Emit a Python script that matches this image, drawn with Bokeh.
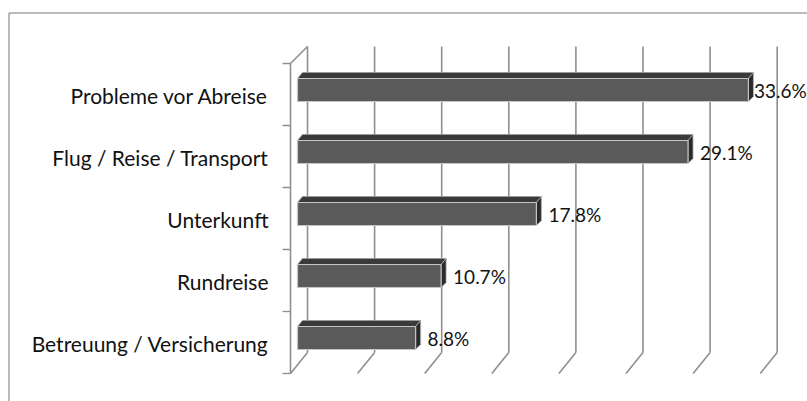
from bokeh.plotting import figure
from bokeh.models import Range1d, ColumnDataSource
from bokeh.embed import file_html
from bokeh.resources import INLINE
from bokeh.core.properties import value

# ---- data ----
categories = ["Probleme vor Abreise", "Flug / Reise / Transport", "Unterkunft",
              "Rundreise", "Betreuung / Versicherung"]
shares = [33.6, 29.1, 17.8, 10.7, 8.8]
value_labels = ["33.6%", "29.1%", "17.8%", "10.7%", "8.8%"]
grid_ticks = [0, 5, 10, 15, 20, 25, 30, 35]

# ---- layout / style ----
W, H = 807, 401
SX = 13.42   # px per percent
SY = 62.0    # px per category band
X0 = 290     # px of front axis (x = 0) inside the figure
Y0 = 63      # px of front axis top inside the figure
label_gap = [5.5, 12, 12, 12, 12]

def ux(px):
    return px / SX

def uy(px):
    return px / SY

GRID = "#8f8f8f"

p = figure(width=W, height=H, output_backend="svg", toolbar_location=None,
           x_range=Range1d(-X0 / SX, (W - X0) / SX),
           y_range=Range1d((H - Y0) / SY, -Y0 / SY),
           min_border=0, x_axis_location=None, y_axis_location=None,
           outline_line_color=None, background_fill_color="white",
           border_fill_color="white")
p.xgrid.visible = False
p.ygrid.visible = False

# outer frame (left + top)
xl = -X0 / SX + ux(8.5)
yt = -Y0 / SY + uy(12.5)
p.segment(x0=[xl, xl], y0=[yt, yt], x1=[xl, (W - X0) / SX + 1],
          y1=[(H - Y0) / SY + 1, yt], line_color="#a3a3a3", line_width=1.5)

# back wall gridlines + floor diagonals
n = len(categories)
bx = ux(17)
p.segment(x0=[t + bx for t in grid_ticks], y0=[uy(-17)] * len(grid_ticks),
          x1=[t + bx for t in grid_ticks], y1=[uy(289)] * len(grid_ticks),
          line_color=GRID, line_width=1.6)
p.segment(x0=[t + bx for t in grid_ticks], y0=[uy(289)] * len(grid_ticks),
          x1=grid_ticks, y1=[n] * len(grid_ticks),
          line_color=GRID, line_width=1.6)

# front (category) axis with ticks and top diagonal
p.segment(x0=[0], y0=[0], x1=[0], y1=[n], line_color=GRID, line_width=1.6)
p.segment(x0=[0], y0=[0], x1=[bx], y1=[uy(-17)], line_color=GRID, line_width=1.6)
p.segment(x0=[-ux(8)] * (n + 1), y0=list(range(n + 1)),
          x1=[0] * (n + 1), y1=list(range(n + 1)), line_color=GRID, line_width=1.3)

# 3D bars
off = ux(7)
lefts = [off] * n
rights = [off + v for v in shares]
tops = [i + uy(15) for i in range(n)]
bots = [i + uy(38) for i in range(n)]

top_xs = [[l, r, r + ux(5), l + ux(5)] for l, r in zip(lefts, rights)]
top_ys = [[i + uy(15), i + uy(15), i + uy(9), i + uy(9)] for i in range(n)]
p.patches(top_xs, top_ys, fill_color="#3a3a3a", line_color="#9a9a9a", line_width=0.8)

side_xs = [[r, r + ux(5), r + ux(5), r] for r in rights]
side_ys = [[i + uy(15), i + uy(9), i + uy(33), i + uy(38)] for i in range(n)]
p.patches(side_xs, side_ys, fill_color="#2a2a2a", line_color="#b0b0b0", line_width=0.8)

p.quad(left=lefts, right=rights, top=tops, bottom=bots,
       fill_color="#5a5a5a", line_color="#c4c4c4", line_width=1.2)

# value labels
src = ColumnDataSource(dict(x=rights, y=[i + uy(27) for i in range(n)],
                            txt=value_labels, xo=label_gap))
p.text(x="x", y="y", text="txt", x_offset="xo", source=src,
       text_font=value("Lato"), text_font_size="19px", text_color="#111111",
       text_align="left", text_baseline="middle")

# category labels
src2 = ColumnDataSource(dict(x=[0] * n, y=[i + 0.5 for i in range(n)], txt=categories))
p.text(x="x", y="y", text="txt", source=src2, x_offset=-22, y_offset=1,
       text_font=value("Lato"), text_font_size="21px", text_color="#111111",
       text_align="right", text_baseline="middle")

open("out.html", "w").write(file_html(p, INLINE))
